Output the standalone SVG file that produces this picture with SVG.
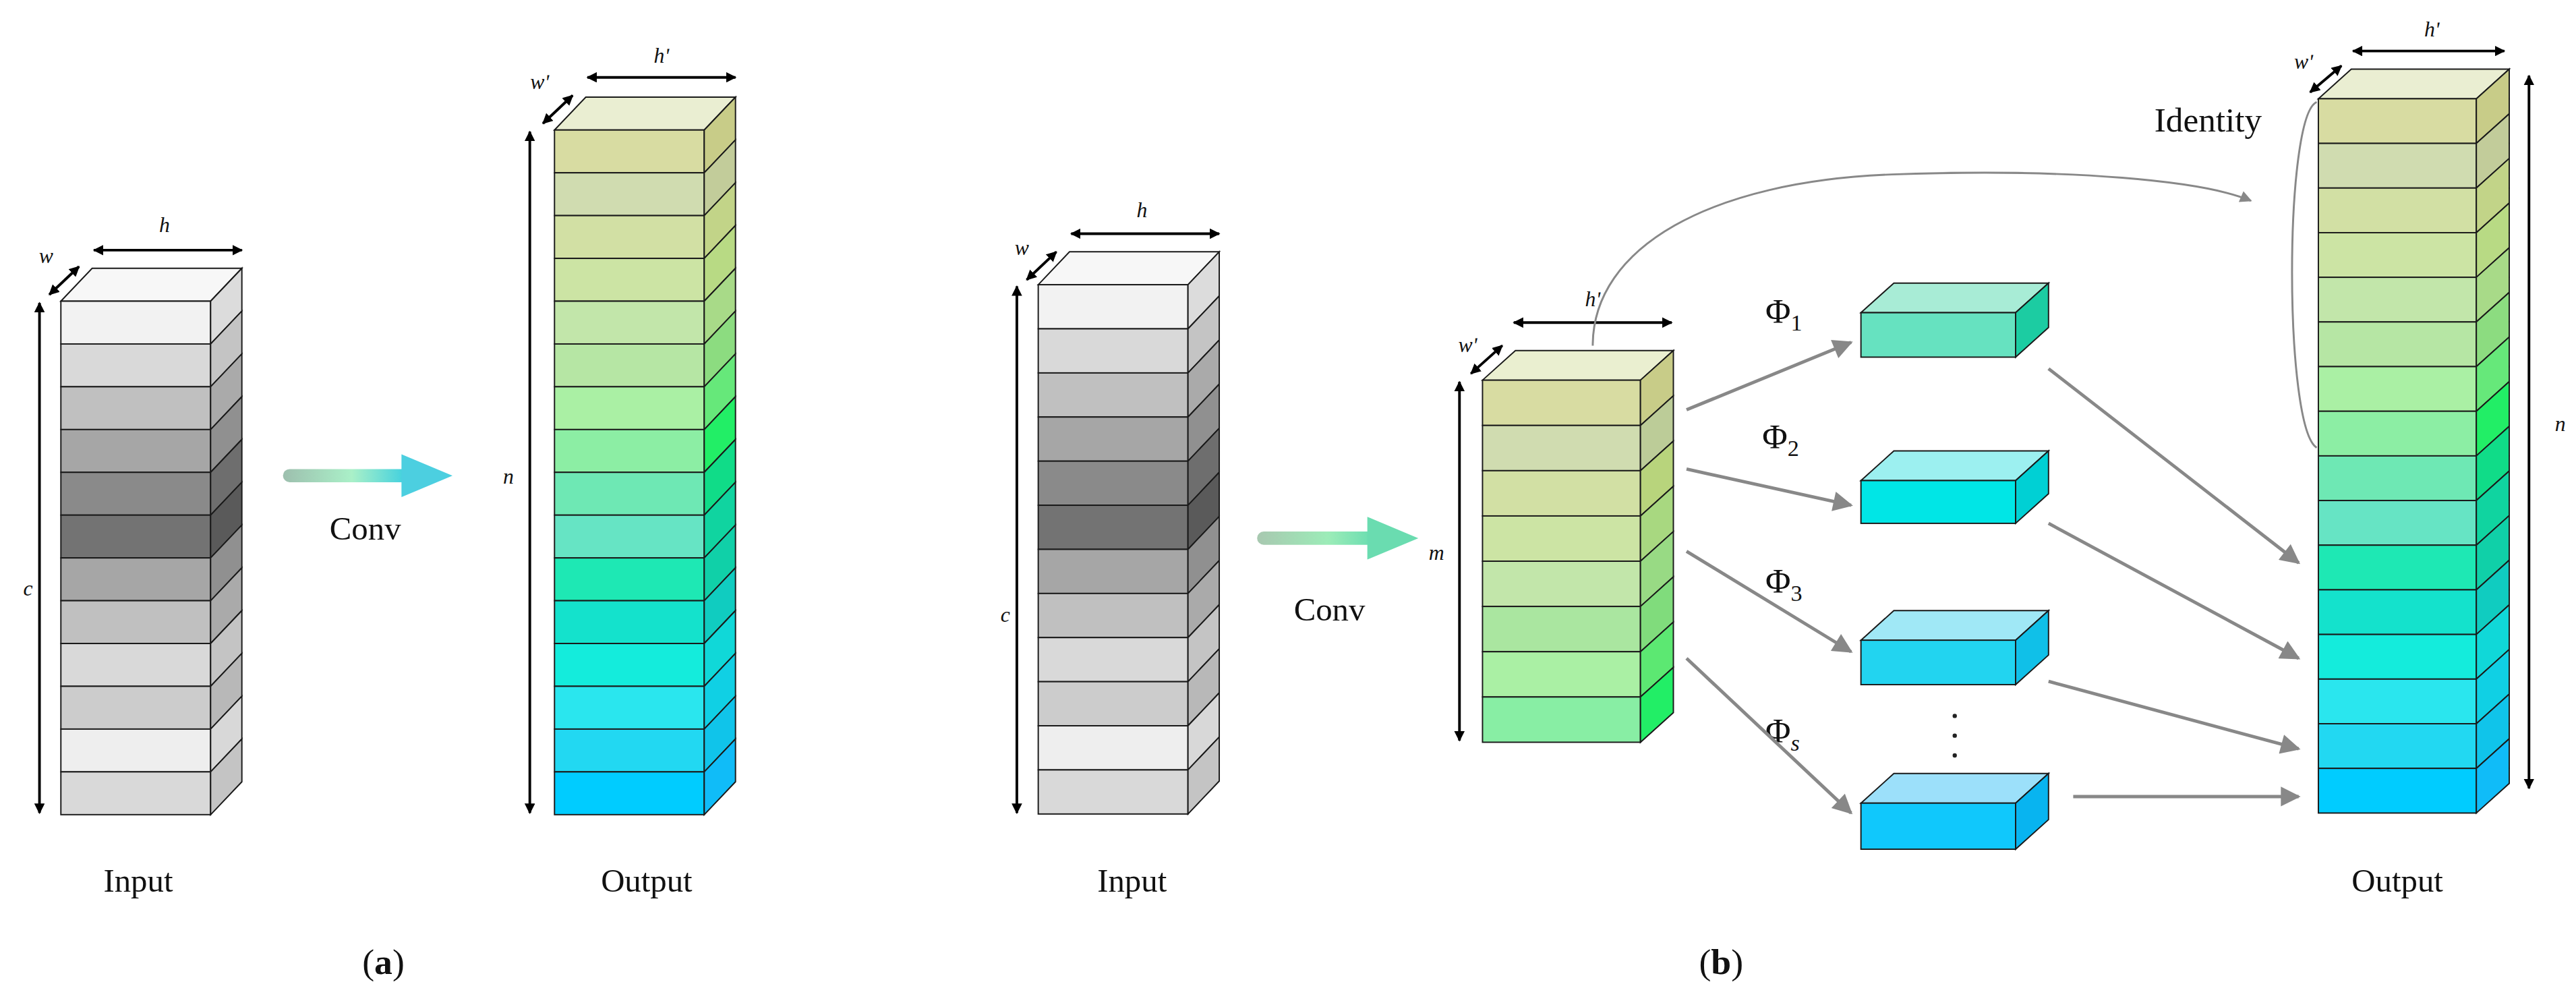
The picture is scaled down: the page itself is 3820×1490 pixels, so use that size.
<svg xmlns="http://www.w3.org/2000/svg" width="3820" height="1490" viewBox="0 0 3820 1490">
<style>
.f{stroke:#1a1a1a;stroke-width:0.8}
.t{font-family:"Liberation Serif",serif;fill:#111}
.i{font-family:"Liberation Serif",serif;font-style:italic;fill:#111;font-size:13px}
.dim{stroke:#000;stroke-width:1.6;fill:none;marker-start:url(#ds);marker-end:url(#de)}
.con{stroke:#888;stroke-width:2;fill:none;marker-end:url(#ga)}
</style>
<defs>
<marker id="de" viewBox="0 0 10 10" refX="9" refY="5" markerWidth="4" markerHeight="4" orient="auto"><path d="M0,0 L10,5 L0,10 z" fill="#000"/></marker>
<marker id="ds" viewBox="0 0 10 10" refX="1" refY="5" markerWidth="4" markerHeight="4" orient="auto"><path d="M10,0 L0,5 L10,10 z" fill="#000"/></marker>
<marker id="ga" viewBox="0 0 10 10" refX="9" refY="5" markerWidth="7" markerHeight="6" orient="auto"><path d="M0,0 L10,5 L0,10 z" fill="#888"/></marker>
<linearGradient id="cg" x1="0" y1="0" x2="1" y2="0"><stop offset="0" stop-color="#9dbfae"/><stop offset="0.55" stop-color="#aaf0c8"/><stop offset="1" stop-color="#3ccfe0"/></linearGradient>
<linearGradient id="cg2" x1="0" y1="0" x2="1" y2="0"><stop offset="0" stop-color="#a8c8b0"/><stop offset="0.6" stop-color="#9cecb8"/><stop offset="1" stop-color="#66dcb0"/></linearGradient>
</defs>
<rect width="3820" height="1490" fill="#fff"/>
<g transform="scale(2.44)">
<g id="a-input">
<path class="f" d="M37,183 l19,-20 h91 l-19,20 z" fill="#f7f7f7"/>
<g class="f">
<rect x="37" y="183" width="91" height="26" fill="#f2f2f2"/><path d="M128,183 l19,-20 v26 l-19,20 z" fill="#dcdcdc"/>
<rect x="37" y="209" width="91" height="26" fill="#d9d9d9"/><path d="M128,209 l19,-20 v26 l-19,20 z" fill="#c4c4c4"/>
<rect x="37" y="235" width="91" height="26" fill="#c0c0c0"/><path d="M128,235 l19,-20 v26 l-19,20 z" fill="#aaaaaa"/>
<rect x="37" y="261" width="91" height="26" fill="#a6a6a6"/><path d="M128,261 l19,-20 v26 l-19,20 z" fill="#909090"/>
<rect x="37" y="287" width="91" height="26" fill="#8a8a8a"/><path d="M128,287 l19,-20 v26 l-19,20 z" fill="#6e6e6e"/>
<rect x="37" y="313" width="91" height="26" fill="#737373"/><path d="M128,313 l19,-20 v26 l-19,20 z" fill="#5a5a5a"/>
<rect x="37" y="339" width="91" height="26" fill="#a6a6a6"/><path d="M128,339 l19,-20 v26 l-19,20 z" fill="#909090"/>
<rect x="37" y="365" width="91" height="26" fill="#c0c0c0"/><path d="M128,365 l19,-20 v26 l-19,20 z" fill="#aaaaaa"/>
<rect x="37" y="391" width="91" height="26" fill="#d9d9d9"/><path d="M128,391 l19,-20 v26 l-19,20 z" fill="#c4c4c4"/>
<rect x="37" y="417" width="91" height="26" fill="#cccccc"/><path d="M128,417 l19,-20 v26 l-19,20 z" fill="#b8b8b8"/>
<rect x="37" y="443" width="91" height="26" fill="#eeeeee"/><path d="M128,443 l19,-20 v26 l-19,20 z" fill="#d8d8d8"/>
<rect x="37" y="469" width="91" height="26" fill="#d9d9d9"/><path d="M128,469 l19,-20 v26 l-19,20 z" fill="#c4c4c4"/>
</g>
<line class="dim" x1="57" y1="152" x2="147" y2="152"/>
<line class="dim" x1="30" y1="179" x2="48" y2="162"/>
<line class="dim" x1="24" y1="184" x2="24" y2="494"/>
<text class="i" x="100" y="141" text-anchor="middle">h</text>
<text class="i" x="28" y="160" text-anchor="middle">w</text>
<text class="i" x="17" y="362" text-anchor="middle">c</text>
<text class="t" x="84" y="542" font-size="20" text-anchor="middle">Input</text>
</g>
<g id="a-conv">
<rect x="172" y="285" width="76" height="8" rx="4" fill="url(#cg)"/>
<path d="M244,276 L275,289 L244,302 z" fill="#4ccfe0"/>
<text class="t" x="222" y="328" font-size="20" text-anchor="middle">Conv</text>
</g>
<g id="a-output">
<path class="f" d="M337,79 l19,-20 h91 l-19,20 z" fill="#eaeed2"/>
<g class="f">
<rect x="337" y="79" width="91" height="26" fill="#d8dca2"/><path d="M428,79 l19,-20 v26 l-19,20 z" fill="#c8cc88"/>
<rect x="337" y="105" width="91" height="26" fill="#d0dcb0"/><path d="M428,105 l19,-20 v26 l-19,20 z" fill="#c2cc9a"/>
<rect x="337" y="131" width="91" height="26" fill="#d2e0a4"/><path d="M428,131 l19,-20 v26 l-19,20 z" fill="#c2d488"/>
<rect x="337" y="157" width="91" height="26" fill="#cce4a4"/><path d="M428,157 l19,-20 v26 l-19,20 z" fill="#b8da84"/>
<rect x="337" y="183" width="91" height="26" fill="#c2e6aa"/><path d="M428,183 l19,-20 v26 l-19,20 z" fill="#a8da88"/>
<rect x="337" y="209" width="91" height="26" fill="#b6e6a4"/><path d="M428,209 l19,-20 v26 l-19,20 z" fill="#8cdc80"/>
<rect x="337" y="235" width="91" height="26" fill="#aaf0a4"/><path d="M428,235 l19,-20 v26 l-19,20 z" fill="#66e87a"/>
<rect x="337" y="261" width="91" height="26" fill="#8ceea4"/><path d="M428,261 l19,-20 v26 l-19,20 z" fill="#22ee66"/>
<rect x="337" y="287" width="91" height="26" fill="#6ee8b4"/><path d="M428,287 l19,-20 v26 l-19,20 z" fill="#10dc88"/>
<rect x="337" y="313" width="91" height="26" fill="#66e4c4"/><path d="M428,313 l19,-20 v26 l-19,20 z" fill="#10d4a0"/>
<rect x="337" y="339" width="91" height="26" fill="#1ee8b4"/><path d="M428,339 l19,-20 v26 l-19,20 z" fill="#10d0a8"/>
<rect x="337" y="365" width="91" height="26" fill="#14e2cc"/><path d="M428,365 l19,-20 v26 l-19,20 z" fill="#10ccc0"/>
<rect x="337" y="391" width="91" height="26" fill="#14ecdc"/><path d="M428,391 l19,-20 v26 l-19,20 z" fill="#10d8d8"/>
<rect x="337" y="417" width="91" height="26" fill="#2ae6ee"/><path d="M428,417 l19,-20 v26 l-19,20 z" fill="#10d0e4"/>
<rect x="337" y="443" width="91" height="26" fill="#22d8f2"/><path d="M428,443 l19,-20 v26 l-19,20 z" fill="#10c4ea"/>
<rect x="337" y="469" width="91" height="26" fill="#00ccff"/><path d="M428,469 l19,-20 v26 l-19,20 z" fill="#10bcf8"/>
</g>
<line class="dim" x1="357" y1="47" x2="447" y2="47"/>
<line class="dim" x1="330" y1="75" x2="348" y2="58"/>
<line class="dim" x1="322" y1="80" x2="322" y2="494"/>
<text class="i" x="402" y="38" text-anchor="middle">hʹ</text>
<text class="i" x="328" y="54" text-anchor="middle">wʹ</text>
<text class="i" x="309" y="294" text-anchor="middle">n</text>
<text class="t" x="393" y="542" font-size="20" text-anchor="middle">Output</text>
</g>
<text class="t" x="233" y="592" font-size="22" text-anchor="middle">(<tspan font-weight="bold">a</tspan>)</text>
<g id="b-input">
<path class="f" d="M631,173 l19,-20 h91 l-19,20 z" fill="#f7f7f7"/>
<g class="f">
<rect x="631" y="173" width="91" height="26.8" fill="#f2f2f2"/><path d="M722,173 l19,-20 v26.8 l-19,20 z" fill="#dcdcdc"/>
<rect x="631" y="199.8" width="91" height="26.8" fill="#d9d9d9"/><path d="M722,199.8 l19,-20 v26.8 l-19,20 z" fill="#c4c4c4"/>
<rect x="631" y="226.6" width="91" height="26.8" fill="#c0c0c0"/><path d="M722,226.6 l19,-20 v26.8 l-19,20 z" fill="#aaaaaa"/>
<rect x="631" y="253.4" width="91" height="26.8" fill="#a6a6a6"/><path d="M722,253.4 l19,-20 v26.8 l-19,20 z" fill="#909090"/>
<rect x="631" y="280.2" width="91" height="26.8" fill="#8a8a8a"/><path d="M722,280.2 l19,-20 v26.8 l-19,20 z" fill="#6e6e6e"/>
<rect x="631" y="307" width="91" height="26.8" fill="#737373"/><path d="M722,307 l19,-20 v26.8 l-19,20 z" fill="#5a5a5a"/>
<rect x="631" y="333.8" width="91" height="26.8" fill="#a6a6a6"/><path d="M722,333.8 l19,-20 v26.8 l-19,20 z" fill="#909090"/>
<rect x="631" y="360.6" width="91" height="26.8" fill="#c0c0c0"/><path d="M722,360.6 l19,-20 v26.8 l-19,20 z" fill="#aaaaaa"/>
<rect x="631" y="387.4" width="91" height="26.8" fill="#d9d9d9"/><path d="M722,387.4 l19,-20 v26.8 l-19,20 z" fill="#c4c4c4"/>
<rect x="631" y="414.2" width="91" height="26.8" fill="#cccccc"/><path d="M722,414.2 l19,-20 v26.8 l-19,20 z" fill="#b8b8b8"/>
<rect x="631" y="441" width="91" height="26.8" fill="#eeeeee"/><path d="M722,441 l19,-20 v26.8 l-19,20 z" fill="#d8d8d8"/>
<rect x="631" y="467.8" width="91" height="26.8" fill="#d9d9d9"/><path d="M722,467.8 l19,-20 v26.8 l-19,20 z" fill="#c4c4c4"/>
</g>
<line class="dim" x1="651" y1="142" x2="741" y2="142"/>
<line class="dim" x1="624" y1="170" x2="642" y2="153"/>
<line class="dim" x1="618" y1="174" x2="618" y2="494"/>
<text class="i" x="694" y="132" text-anchor="middle">h</text>
<text class="i" x="621" y="155" text-anchor="middle">w</text>
<text class="i" x="611" y="378" text-anchor="middle">c</text>
<text class="t" x="688" y="542" font-size="20" text-anchor="middle">Input</text>
</g>
<g id="b-conv">
<rect x="764" y="323" width="72" height="8" rx="4" fill="url(#cg2)"/>
<path d="M831,314 L862,327 L831,340 z" fill="#6adcb0"/>
<text class="t" x="808" y="377" font-size="20" text-anchor="middle">Conv</text>
</g>
<g id="m-block">
<path class="f" d="M901,231 l20,-18 h96 l-20,18 z" fill="#eaefd0"/>
<g class="f">
<rect x="901" y="231" width="96" height="27.5" fill="#d8dca2"/><path d="M997,231 l20,-18 v27.5 l-20,18 z" fill="#c8cc88"/>
<rect x="901" y="258.5" width="96" height="27.5" fill="#d0dcb0"/><path d="M997,258.5 l20,-18 v27.5 l-20,18 z" fill="#bccc98"/>
<rect x="901" y="286" width="96" height="27.5" fill="#d2e0a4"/><path d="M997,286 l20,-18 v27.5 l-20,18 z" fill="#b8d47c"/>
<rect x="901" y="313.5" width="96" height="27.5" fill="#cce4a4"/><path d="M997,313.5 l20,-18 v27.5 l-20,18 z" fill="#a8d880"/>
<rect x="901" y="341" width="96" height="27.5" fill="#c2e6aa"/><path d="M997,341 l20,-18 v27.5 l-20,18 z" fill="#98da84"/>
<rect x="901" y="368.5" width="96" height="27.5" fill="#aae6a0"/><path d="M997,368.5 l20,-18 v27.5 l-20,18 z" fill="#80dc7c"/>
<rect x="901" y="396" width="96" height="27.5" fill="#aaf0a4"/><path d="M997,396 l20,-18 v27.5 l-20,18 z" fill="#5ce872"/>
<rect x="901" y="423.5" width="96" height="27.5" fill="#88eea4"/><path d="M997,423.5 l20,-18 v27.5 l-20,18 z" fill="#22ee66"/>
</g>
<line class="dim" x1="920" y1="196" x2="1016" y2="196"/>
<line class="dim" x1="894" y1="227" x2="913" y2="210"/>
<line class="dim" x1="887" y1="232" x2="887" y2="450"/>
<text class="i" x="968" y="186" text-anchor="middle">hʹ</text>
<text class="i" x="892" y="214" text-anchor="middle">wʹ</text>
<text class="i" x="873" y="340" text-anchor="middle">m</text>
</g>
<g id="box1" class="f"><path d="M1131,190 l20,-18 h94 l-20,18 z" fill="#a8ecd6"/><rect x="1131" y="190" width="94" height="27" fill="#66e2c0"/><path d="M1225,190 l20,-18 v27 l-20,18 z" fill="#1ccca2"/></g>
<g id="box2" class="f"><path d="M1131,292 l20,-18 h94 l-20,18 z" fill="#9cf0f0"/><rect x="1131" y="292" width="94" height="26" fill="#00e6e6"/><path d="M1225,292 l20,-18 v26 l-20,18 z" fill="#00d0d4"/></g>
<g id="box3" class="f"><path d="M1131,389 l20,-18 h94 l-20,18 z" fill="#a0e8f6"/><rect x="1131" y="389" width="94" height="27" fill="#22d4f0"/><path d="M1225,389 l20,-18 v27 l-20,18 z" fill="#10c0e8"/></g>
<g id="box4" class="f"><path d="M1131,488 l20,-18 h94 l-20,18 z" fill="#9ce0fa"/><rect x="1131" y="488" width="94" height="28" fill="#10c8fc"/><path d="M1225,488 l20,-18 v28 l-20,18 z" fill="#08b4f0"/></g>
<g id="dots" fill="#222"><circle cx="1188" cy="435" r="1.3"/><circle cx="1188" cy="447" r="1.3"/><circle cx="1188" cy="459" r="1.3"/></g>
<g id="phi-labels" class="t" font-size="21">
<text x="1073" y="196">Φ<tspan font-size="14" dy="5">1</tspan></text>
<text x="1071" y="272">Φ<tspan font-size="14" dy="5">2</tspan></text>
<text x="1073" y="360">Φ<tspan font-size="14" dy="5">3</tspan></text>
<text x="1073" y="451">Φ<tspan font-size="14" dy="5" font-style="italic">s</tspan></text>
<text x="1342" y="80" text-anchor="middle">Identity</text>
</g>
<g id="b-output">
<path class="f" d="M1409,60 l20,-18 h96 l-20,18 z" fill="#eaeed2"/>
<g class="f">
<rect x="1409" y="60" width="96" height="27.13" fill="#d8dca2"/><path d="M1505,60 l20,-18 v27.13 l-20,18 z" fill="#c8cc88"/>
<rect x="1409" y="87.13" width="96" height="27.13" fill="#d0dcb0"/><path d="M1505,87.13 l20,-18 v27.13 l-20,18 z" fill="#c2cc9a"/>
<rect x="1409" y="114.25" width="96" height="27.13" fill="#d2e0a4"/><path d="M1505,114.25 l20,-18 v27.13 l-20,18 z" fill="#c2d488"/>
<rect x="1409" y="141.38" width="96" height="27.13" fill="#cce4a4"/><path d="M1505,141.38 l20,-18 v27.13 l-20,18 z" fill="#b8da84"/>
<rect x="1409" y="168.5" width="96" height="27.13" fill="#c2e6aa"/><path d="M1505,168.5 l20,-18 v27.13 l-20,18 z" fill="#a8da88"/>
<rect x="1409" y="195.63" width="96" height="27.13" fill="#b6e6a4"/><path d="M1505,195.63 l20,-18 v27.13 l-20,18 z" fill="#8cdc80"/>
<rect x="1409" y="222.75" width="96" height="27.13" fill="#aaf0a4"/><path d="M1505,222.75 l20,-18 v27.13 l-20,18 z" fill="#66e87a"/>
<rect x="1409" y="249.88" width="96" height="27.13" fill="#8ceea4"/><path d="M1505,249.88 l20,-18 v27.13 l-20,18 z" fill="#22ee66"/>
<rect x="1409" y="277" width="96" height="27.13" fill="#6ee8b4"/><path d="M1505,277 l20,-18 v27.13 l-20,18 z" fill="#10dc88"/>
<rect x="1409" y="304.13" width="96" height="27.13" fill="#66e4c4"/><path d="M1505,304.13 l20,-18 v27.13 l-20,18 z" fill="#10d4a0"/>
<rect x="1409" y="331.25" width="96" height="27.13" fill="#1ee8b4"/><path d="M1505,331.25 l20,-18 v27.13 l-20,18 z" fill="#10d0a8"/>
<rect x="1409" y="358.38" width="96" height="27.13" fill="#14e2cc"/><path d="M1505,358.38 l20,-18 v27.13 l-20,18 z" fill="#10ccc0"/>
<rect x="1409" y="385.5" width="96" height="27.13" fill="#14ecdc"/><path d="M1505,385.5 l20,-18 v27.13 l-20,18 z" fill="#10d8d8"/>
<rect x="1409" y="412.63" width="96" height="27.13" fill="#2ae6ee"/><path d="M1505,412.63 l20,-18 v27.13 l-20,18 z" fill="#10d0e4"/>
<rect x="1409" y="439.75" width="96" height="27.13" fill="#22d8f2"/><path d="M1505,439.75 l20,-18 v27.13 l-20,18 z" fill="#10c4ea"/>
<rect x="1409" y="466.88" width="96" height="27.13" fill="#00ccff"/><path d="M1505,466.88 l20,-18 v27.13 l-20,18 z" fill="#10bcf8"/>
</g>
<line class="dim" x1="1430" y1="31" x2="1522" y2="31"/>
<line class="dim" x1="1404" y1="56" x2="1423" y2="40"/>
<line class="dim" x1="1537" y1="46" x2="1537" y2="479"/>
<text class="i" x="1478" y="22" text-anchor="middle">hʹ</text>
<text class="i" x="1400" y="42" text-anchor="middle">wʹ</text>
<text class="i" x="1556" y="262" text-anchor="middle">n</text>
<text class="t" x="1457" y="542" font-size="20" text-anchor="middle">Output</text>
</g>
<text class="t" x="1046" y="592" font-size="22" text-anchor="middle">(<tspan font-weight="bold">b</tspan>)</text>
<g id="connectors">
<path d="M968,210 C968,150 1040,110 1150,106 C1260,102 1340,110 1368,122" stroke="#888" stroke-width="1.2" fill="none" marker-end="url(#ga)"/>
<path d="M1408,62 C1388,70 1388,260 1408,272" stroke="#888" stroke-width="1.2" fill="none"/>
<line class="con" x1="1025" y1="249" x2="1125" y2="208"/>
<line class="con" x1="1025" y1="285" x2="1125" y2="307"/>
<line class="con" x1="1025" y1="335" x2="1125" y2="396"/>
<line class="con" x1="1025" y1="400" x2="1125" y2="494"/>
<line class="con" x1="1245" y1="224" x2="1397" y2="342"/>
<line class="con" x1="1245" y1="318" x2="1397" y2="400"/>
<line class="con" x1="1245" y1="414" x2="1397" y2="455"/>
<line class="con" x1="1260" y1="484" x2="1397" y2="484"/>
</g>
</g>
</svg>
